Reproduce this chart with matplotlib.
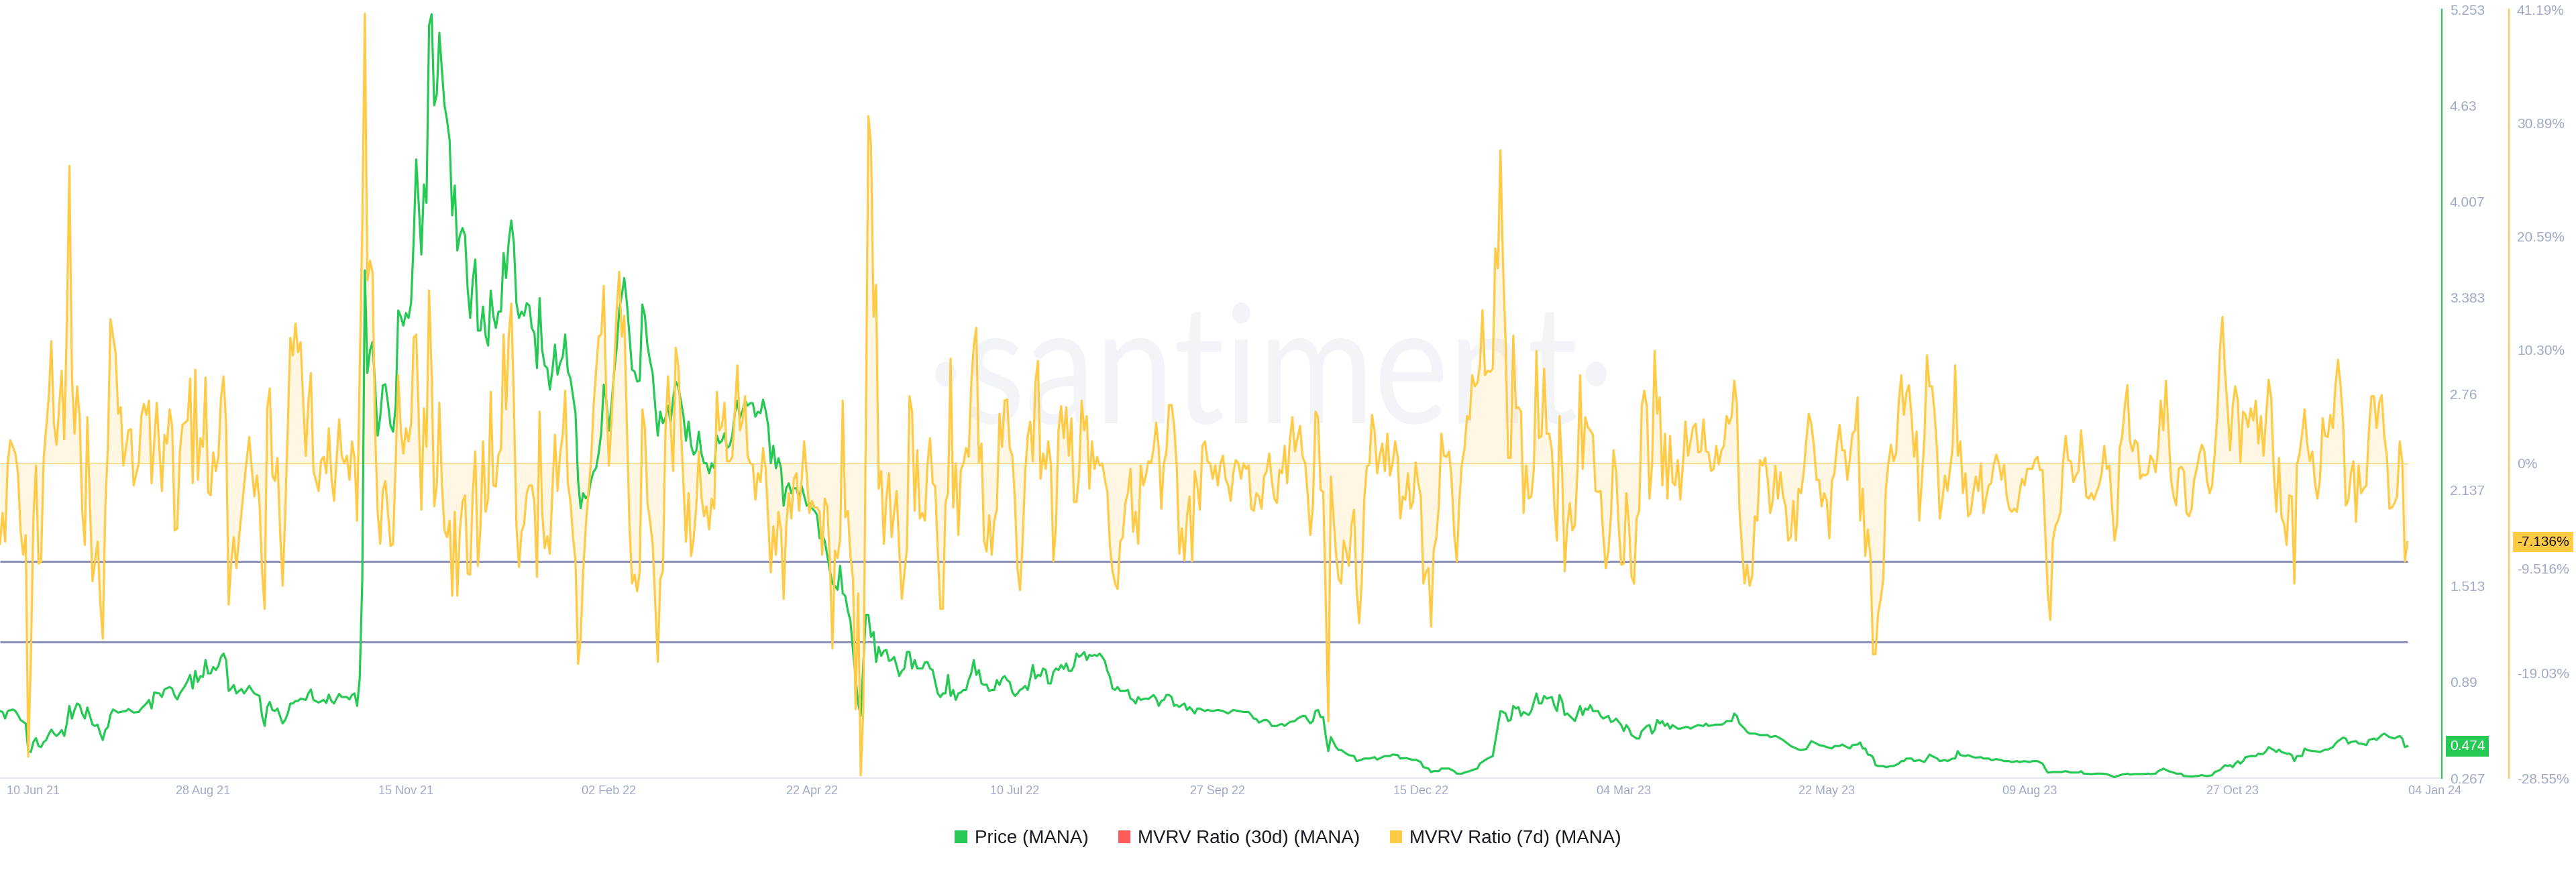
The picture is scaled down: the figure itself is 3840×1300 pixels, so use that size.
import datetime as dt
import numpy as np
import matplotlib
matplotlib.use("Agg")
import matplotlib.pyplot as plt
import matplotlib.dates as mdates
from matplotlib.patches import Patch, PathPatch
from matplotlib.textpath import TextPath
from matplotlib.font_manager import FontProperties
from matplotlib.transforms import Affine2D, blended_transform_factory, offset_copy

plt.rcParams['font.family'] = ['Liberation Sans', 'DejaVu Sans']

# ---------------- data (day = days after 10 Jun 2021) ----------------
START = dt.datetime(2021, 6, 10)

# MVRV ratio 7d (%) : 2021 part as (day, value) pairs
mvrv_points_2021 = [
    (0, -7.3), (1, -4.5), (2, -7.1), (3, 0.0), (4, 2.1), (6, 0.9), (7, -0.9), (8, -6.1), (9, -8.3), (10, -6.5),
    (11, -26.6), (12, -18.0), (13, -5.0), (14, -0.2), (15, -9.1), (16, -8.9), (17, 0.5), (19, 6.1), (20, 11.1),
    (21, 3.6), (22, 1.7), (24, 8.4), (25, 2.2), (26, 12.5), (27, 27.0), (28, 8.0), (29, 2.7), (30, 7.0), (31, 4.3),
    (32, -4.3), (33, -7.4), (34, 4.2), (35, -3.9), (36, -10.7), (38, -7.1), (39, -12.5), (40, -15.9), (41, -3.9),
    (42, 1.6), (43, 13.1), (45, 10.0), (46, 4.5), (47, 5.1), (48, -0.2), (50, 3.0), (51, 3.1), (52, -2.0), (54, 0.0),
    (55, 4.3), (56, 5.4), (57, 4.4), (58, 5.7), (59, -1.8), (61, 5.5), (63, -2.5), (64, 2.6), (65, 1.8), (66, 4.9),
    (67, 3.4), (68, -6.1), (69, -5.9), (70, 1.1), (71, 3.5), (73, 3.9), (74, 7.7), (75, -1.8), (76, 8.5), (77, -1.5),
    (78, 2.3), (79, 1.5), (80, 7.8), (81, -2.6), (82, -2.9), (83, 1.0), (84, -0.7), (85, 0.6), (86, 5.9), (87, 7.9),
    (88, 3.6), (89, -12.8), (90, -8.9), (91, -6.7), (92, -9.5), (93, -6.8), (95, -2.1), (96, 0.3), (97, 2.4),
    (98, -0.5), (99, -3.0), (100, -1.1), (101, -3.6), (102, -9.8), (103, -13.2), (104, 5.0), (105, 6.8), (106, -1.1),
    (107, -1.6), (108, 0.5), (109, -6.1), (110, -11.1), (111, -4.8), (112, 3.4), (113, 11.4), (114, 9.8), (115, 12.7),
    (116, 10.1), (117, 11.0), (118, 5.7), (119, 0.7), (120, 5.5), (121, 8.2), (122, -0.7), (124, -2.5), (125, 0.3),
    (126, 0.6), (127, -0.9), (128, 3.2), (129, -1.3), (130, -3.4), (132, 4.0), (133, 0.7), (134, 0.0), (135, 0.7),
    (136, -1.5), (137, 2.0), (138, 0.5), (139, -5.2), (140, 8.4), (141, 21.6), (142, 40.8), (143, 16.6), (144, 18.4),
    (145, 17.3), (146, 3.0), (147, -4.5), (148, -7.3), (149, -2.5), (150, -1.6), (152, -7.5), (153, -7.3), (154, 0.2),
    (155, 8.0), (156, 3.0), (157, 0.9), (158, 3.2),
]
# MVRV ratio 7d (%) : daily blocks, keyed by first day
mvrv_daily_from_159 = [
    2.0, 3.6, 11.4, 11.7, 3.9, -4.2, 5.0, 1.5, 15.7, 8.2, -3.9, -2.0, 5.5, -2.0, -6.1, -6.7, -5.2, -12.0, -4.4, -12.0,
    -6.1, -3.5, -2.9, -10.0, -10.1, -2.7, 1.1, -9.3, -6.0, 2.0, -4.4, -3.2, 6.5, -2.0, -2.1, 0.8, 1.3, 11.7, 4.9, 11.5,
    14.5, 5.7, -5.7, -9.4, -6.2, -5.5, -2.7, -2.0, -2.0, -3.6, -10.3, 4.7, -4.4, -7.7, -6.6, -8.2, -2.5, 2.6, -2.5, 0.9,
    2.6, 6.6, -1.8, -3.4, -6.6, -8.9, -18.2, -15.9, -9.8, -5.7, -2.7, 0.0, 5.2, 8.4, 11.5, 11.7, 16.1, 5.7, -0.2, 3.9,
    8.4, 13.9, 17.4, 11.5, 13.4, 3.4, -5.7, -10.9, -10.1, -11.6, -9.8, 4.9, 3.2, -3.6, -5.2, -7.3, -12.5, -18.0, -10.5,
    -9.8, 3.0, 7.9, 3.6, -0.7, 10.5, 8.9, 3.4, -1.8, -7.1, -2.7, -8.4, -6.8, -3.9, 1.1, -3.0, -4.8, -3.9, -6.0, -3.2,
    -4.1, 6.5, 3.0, 3.4, 5.5, 0.2, 0.2, 0.6, 4.8, 8.9, 3.0, 3.9, 6.1, 0.7, 0.0, -0.1, -3.3, -0.9, -1.7, 1.4, -0.5,
    -5.2, -9.9, -5.7, -8.3, -4.4, -6.1, -12.3, -5.8, -2.7, -5.0, -1.4, -0.9, -4.3, -1.6, 2.0, -1.1, -4.5,
]
mvrv_daily_from_316 = [
    -3.4, -4.0, -4.0, -4.4, -8.3, -3.2, -3.9, -8.9, -16.8, -7.9, -8.6, -6.8, 5.7, -4.9, -4.3, -8.4, -10.5, -22.3,
    -11.8, -28.3, -22.5, 3.4, 31.5, 28.9, 13.3, 16.2, -2.3, -0.7, -7.3, -3.2, -0.9, -6.7, -4.5, -2.5, -8.0, -12.3,
    -10.0, -7.7, 6.1, 4.7, -4.3, 1.2, -5.0, -4.5, -5.2, 0.0, 2.3, -1.8, -2.1, -8.0, -13.2, -13.2, -3.6, -2.7, 9.5,
    -4.0, 0.0, -6.5, -0.6, 0.0, 1.4, 0.6, 7.1, 10.7, 12.3, 0.1, 1.8, -7.0, -8.0, -4.7, -8.3, -5.2, -4.2, 4.5, 1.5,
    5.7, 5.8, 1.4, 0.7, -3.2, -9.5, -11.5, -7.3, -0.9, 2.5, 3.8, 0.2, 7.4, 9.3, -1.4, 0.9, -0.5, 2.0, 0.0, -8.9,
    -5.7, 3.0, 5.2, 2.3, 5.1, 0.7, 4.1, -3.5, -3.5, -1.0, 5.7, 3.0, 4.3, -2.3, 2.0, -0.5, 0.6, -0.2, 0.0, -1.4,
    -2.6, -7.5, -9.8, -10.9, -11.4, -7.1, -6.7, -3.6, -2.7, -0.5, -6.2, -4.4, -7.3, -0.2, -2.0, -1.1, 0.2, 0.0,
    1.4, 3.7, 1.4, -4.1, 0.0, 1.1, 5.3, 5.3, 3.4, -0.2, -8.2, -5.9, -8.8, -4.8, -3.0, -8.9, -0.7, -2.0, -4.2, 1.6,
    2.0, 0.2,
]
mvrv_daily_from_471 = [
    0.0, -1.4, -0.2, -2.0, 0.0, 0.7, -1.4, -2.0, -3.4, -0.9, 0.3, 0.0, -1.4, 0.0, -0.5, -0.2, -4.1, -4.3, -2.7, -3.0,
    -4.1, -1.2, -0.7, 0.9, -1.6, -3.2, -3.6, -0.6, -0.9, 1.6, -1.8, 2.0, 4.2, 1.1, 2.3, 3.4, 0.6, 0.0, -3.0, -6.5,
    -3.9, 4.7, 4.2, -2.4, -2.6, -12.5, -23.4, -1.2, -4.8, -8.2, -10.5, -10.9, -7.0, -8.0, -9.3, -5.6, -4.2, -11.4,
    -14.5, -10.9, -3.2, -0.3, -0.1, 4.4, 2.9, -0.9, 0.7, 1.8, -0.7, 2.7, -1.1, 0.0, 2.0, 0.6, -5.0, -3.0, -3.3, -0.9,
    -4.1, -3.5, 0.1, -1.8, -3.0, -10.9, -9.9, -9.5, -14.8, -7.9, -6.8, -3.9, 2.7, 0.7, 0.6, 1.1, -1.6, -6.4, -8.9,
    -3.4, 0.0, 1.4, 4.3, 4.0, 8.0, 7.0, 7.3, 8.9, 13.9, 8.0, 8.4, 8.3, 8.6, 19.5, 17.7, 28.4, 18.0, 11.1, 0.5, 0.5,
    11.6, 5.0, 5.1, 4.7, -4.5, -0.2, -3.2, -3.0, -0.5, 10.2, 2.3, 2.5, 8.6, 2.7, 2.7, 1.2, -3.9, -7.0, 4.3, -0.7,
    -9.8, -5.7, -3.6, -6.1, -5.6, -0.5, 8.0, -0.5, 4.2, 3.3, 3.0, 2.6, -2.5, -2.6, -2.5, -6.6, -9.5, -8.0, -4.8,
]
mvrv_daily_from_628 = [
    1.2, -0.7, -5.7, -9.2, -9.1, -2.7, -5.5, -10.2, -10.9, -5.0, -4.3, 5.2, 6.6, 5.1, -3.2, -0.2, 10.2, 4.5, 6.0, -2.0,
    2.7, -3.2, 2.5, -1.7, -2.0, 0.3, -3.3, -0.2, 3.8, 0.7, 2.0, 3.3, 3.6, 1.0, 1.1, 4.0, 1.1, 1.0, -0.7, -0.5,
    1.6, -0.1, 1.2, 1.6, 4.3, 3.6, 4.3, 7.5, 5.5, -4.1, -7.7, -10.9, -9.2, -11.1, -10.2, -4.8, -5.2, 0.3, -0.2, 0.5,
    -1.4, -4.5, -3.4, -0.2, -3.2, -0.8, -3.0, -3.9, -7.0, -6.7, -3.4, -7.0, -2.3, -2.7, -0.9, 2.0, 4.5, 3.6, 1.6, -1.5,
    -1.5, -3.9, -2.7, -3.4, -6.8, -1.6, -0.9, 1.8, 3.5, 1.2, 1.2, -1.5, 0.5, 2.7, 3.0, 6.0, -5.2, -2.3, -8.4, -6.0,
    -8.4, -17.3, -17.3, -13.6, -12.3, -10.5, -2.3, 0.0, 1.7, 0.2, 0.9, 5.5, 8.0, 4.4, 6.4, 7.1, 4.3, 0.6, 2.9, -5.2,
    -1.6, 2.3, 9.8, 7.0, 7.0, 4.5, 0.9, -5.0, -3.4, -1.1, -2.5, -0.5, 1.6, 8.9, 0.7, 2.0, -2.7, -0.9, -4.8, -4.5,
    -2.7, -1.2, -2.5, 0.0, -4.5, -3.2, -2.0, -1.8, -0.1, 0.8, 0.0, -1.5, -0.1, -2.9, -4.1, -4.4,
]
mvrv_daily_from_784 = [
    -4.1, -4.4, -2.7, -1.4, -2.0, -0.5, -0.5, -0.5, 0.3, 0.6, -0.6, -0.6, -6.1, -11.6, -14.2, -7.0, -5.7, -5.2, -4.4,
    0.2, 2.5, 0.3, 0.2, -1.7, -1.1, -0.7, 3.0, 0.2, -3.0, -3.2, -2.7, -3.3, -2.6, -2.0, -0.9, 1.6, -0.5, -0.2, -3.9,
    -7.0, -5.5, 1.4, 2.5, 5.2, 7.1, 2.0, 1.1, 2.1, 1.8, -1.4, -1.0, -1.1, -0.9, 0.7, 0.3, -0.8, 1.4, 5.7, 3.0, 7.5,
    3.0, -1.5, -3.0, -3.8, -0.5, -0.3, -0.7, -4.5, -4.8, -4.1, -1.5, -0.5, 0.8, 1.7, 1.1, -1.6, -2.7, -2.0, 1.0, 4.3,
    10.2, 13.3, 8.4, 5.0, 1.2, 5.2, 7.0, 5.7, 0.1, 4.7, 4.4, 3.3, 5.0, 3.9, 5.7, 1.8, 4.3, 0.7, 4.3, 7.6, 5.9, -0.9,
    -4.4, 0.5, -4.9, -5.5, -7.4, -2.9, -3.0, -10.9, -0.1, 0.9, 2.7, 4.9, 1.8, 0.2, 1.1, -1.8, -3.2, -1.4, 4.1, 2.5,
    2.4, 4.4, 3.2, 7.1, 9.4, 7.0, 3.6, -3.8, -3.4, -0.9, 0.2, -5.3, -0.2, -2.7, -2.3, -2.0, 2.9, 6.1, 6.1, 3.2, 5.5,
    6.2, 2.5, 0.7, -4.1, -4.0, -3.6, -3.0, 2.0, 0.2, -8.9, -7.136,
]

# Price (USD)
price_points_2021 = [
    (0, 0.702), (1, 0.696), (2, 0.653), (3, 0.702), (5, 0.712), (6, 0.702), (7, 0.676), (8, 0.644), (10, 0.621),
    (11, 0.442), (12, 0.436), (13, 0.501), (14, 0.527), (15, 0.475), (16, 0.468), (17, 0.501), (18, 0.514),
    (19, 0.553), (20, 0.582), (21, 0.556), (22, 0.540), (23, 0.556), (24, 0.579), (25, 0.540), (26, 0.621),
    (27, 0.735), (28, 0.653), (29, 0.709), (30, 0.751), (31, 0.741), (32, 0.686), (33, 0.653), (34, 0.725),
    (35, 0.670), (36, 0.614), (37, 0.605), (38, 0.614), (39, 0.556), (40, 0.514), (41, 0.579), (42, 0.598),
    (43, 0.679), (44, 0.712), (46, 0.692), (47, 0.696), (49, 0.702), (50, 0.715), (52, 0.692), (54, 0.696),
    (55, 0.718), (57, 0.751), (58, 0.774), (59, 0.718), (60, 0.822), (62, 0.816), (63, 0.793), (64, 0.842),
    (66, 0.858), (67, 0.848), (68, 0.800), (69, 0.777), (70, 0.816), (72, 0.865), (73, 0.897), (74, 0.936),
    (75, 0.848), (76, 0.962), (77, 0.891), (78, 0.929), (79, 0.923), (80, 1.033), (81, 0.946), (82, 0.946),
    (83, 0.988), (84, 0.968), (85, 0.994), (86, 1.053), (87, 1.075), (88, 1.033), (89, 0.832), (90, 0.848),
    (91, 0.871), (92, 0.816), (93, 0.832), (94, 0.845), (95, 0.816), (96, 0.839), (97, 0.865), (98, 0.839),
    (99, 0.816), (101, 0.800), (102, 0.670), (103, 0.605), (104, 0.728), (105, 0.761), (106, 0.709), (107, 0.702),
    (108, 0.718), (109, 0.670), (110, 0.621), (111, 0.644), (112, 0.686), (113, 0.751), (114, 0.751), (115, 0.767),
    (116, 0.767), (117, 0.783), (119, 0.774), (120, 0.816), (121, 0.842), (122, 0.774), (124, 0.757), (126, 0.774),
    (127, 0.754), (128, 0.809), (129, 0.767), (130, 0.751), (131, 0.783), (132, 0.813), (133, 0.793), (135, 0.793),
    (136, 0.777), (137, 0.806), (138, 0.816), (139, 0.735), (140, 0.913), (141, 1.550), (142, 3.560), (143, 2.894),
    (144, 3.040), (145, 3.095), (146, 2.813), (147, 2.488), (148, 2.611), (149, 2.813), (150, 2.822), (151, 2.699),
    (152, 2.553), (153, 2.514), (154, 2.676), (155, 3.300), (156, 3.261),
]
price_daily_from_157 = [
    3.202, 3.283, 3.251, 3.348, 3.754, 4.280, 3.981, 3.663, 4.118, 3.998, 5.150, 5.222, 4.631, 4.702, 5.101, 4.858,
    4.631, 4.534, 4.404, 3.917, 4.111, 3.689, 3.787, 3.835, 3.787, 3.446, 3.251, 3.495, 3.631, 3.170, 3.170, 3.326,
    3.137, 3.072, 3.430, 3.267, 3.186, 3.293, 3.293, 3.673, 3.511, 3.748, 3.884, 3.738, 3.348, 3.251, 3.293, 3.267,
    3.348, 3.332, 3.186, 3.153, 2.926, 3.381, 3.046, 2.943, 2.926, 2.787, 2.910, 3.079, 2.884, 2.959, 2.998, 3.144,
    2.904, 2.861, 2.748, 2.634, 2.196, 2.017, 2.115, 2.082, 2.098, 2.196, 2.254, 2.277, 2.374, 2.504, 2.819, 2.715,
    2.520, 2.689, 2.894, 3.056, 3.300, 3.397, 3.511, 3.348, 3.137, 2.916, 2.904, 2.839, 2.845, 3.339, 3.267, 3.072,
    2.975, 2.894, 2.683, 2.488, 2.644, 2.569, 2.602, 2.683, 2.569, 2.731, 2.839, 2.806, 2.715, 2.618, 2.455, 2.579,
    2.423, 2.365, 2.391, 2.514, 2.374, 2.309, 2.309, 2.244, 2.309, 2.277, 2.488, 2.439, 2.455, 2.504, 2.407, 2.423,
    2.488, 2.634, 2.715, 2.602, 2.650, 2.715, 2.683, 2.699, 2.699, 2.611, 2.644, 2.634, 2.722, 2.650, 2.553, 2.309,
    2.423, 2.277, 2.342, 2.277, 2.033, 2.147, 2.179, 2.115, 2.147, 2.147, 2.082, 2.163, 2.098, 2.033, 2.050,
]
price_daily_from_316 = [
    2.017, 2.001, 1.975, 1.822, 1.845, 1.806, 1.709, 1.611, 1.530, 1.514, 1.488, 1.644, 1.465, 1.449, 1.351, 1.287,
    1.092, 0.929, 0.751, 0.670, 0.994, 1.326, 1.326, 1.183, 1.215, 1.020, 1.118, 1.059, 1.092, 1.098, 1.027, 1.033,
    1.053, 0.994, 0.929, 0.962, 0.978, 1.085, 1.085, 0.978, 1.033, 0.978, 0.978, 0.978, 1.017, 1.020, 0.978, 0.968,
    0.890, 0.816, 0.793, 0.816, 0.816, 0.936, 0.800, 0.839, 0.774, 0.816, 0.822, 0.839, 0.839, 0.903, 0.946, 1.033,
    0.936, 0.968, 0.881, 0.871, 0.874, 0.832, 0.839, 0.839, 0.903, 0.871, 0.913, 0.929, 0.903, 0.890, 0.825, 0.800,
    0.816, 0.839, 0.848, 0.865, 0.839, 0.913, 1.001, 0.913, 0.936, 0.929, 0.978, 0.968, 0.881, 0.881, 0.955, 0.978,
    0.968, 1.001, 0.975, 1.011, 0.962, 0.962, 0.994, 1.075, 1.053, 1.066, 1.085, 1.033, 1.066, 1.059, 1.066, 1.059,
    1.075, 1.053, 1.027, 0.962, 0.923, 0.848, 0.839, 0.858, 0.832, 0.832, 0.832, 0.839, 0.783, 0.774, 0.751, 0.793,
    0.774, 0.780, 0.783, 0.780, 0.793, 0.806, 0.783, 0.735, 0.767, 0.774, 0.806, 0.806, 0.793, 0.735, 0.741, 0.728,
    0.741, 0.751, 0.709, 0.728, 0.709, 0.686, 0.718, 0.718, 0.709, 0.702, 0.709,
]
price_points_late = [
    (472, 0.702), (474, 0.709), (476, 0.702), (478, 0.686), (480, 0.709), (482, 0.702), (484, 0.696), (486, 0.696),
    (487, 0.676), (488, 0.653), (489, 0.650), (490, 0.627), (492, 0.644), (493, 0.644), (494, 0.631), (495, 0.605),
    (497, 0.605), (498, 0.614), (499, 0.618), (500, 0.605), (502, 0.631), (504, 0.637), (505, 0.653), (507, 0.670),
    (508, 0.670), (509, 0.644), (510, 0.621), (511, 0.637), (512, 0.702), (513, 0.709), (514, 0.663), (515, 0.663),
    (516, 0.540), (517, 0.442), (518, 0.533), (519, 0.501), (520, 0.468), (521, 0.449), (522, 0.449), (524, 0.426),
    (525, 0.416), (527, 0.410), (528, 0.377), (530, 0.387), (531, 0.394), (533, 0.394), (535, 0.403), (536, 0.387),
    (538, 0.403), (539, 0.410), (541, 0.410), (542, 0.420), (544, 0.416), (545, 0.394), (547, 0.397), (548, 0.394),
    (550, 0.384), (551, 0.387), (553, 0.371), (554, 0.338), (556, 0.329), (557, 0.306), (558, 0.312), (560, 0.312),
    (561, 0.329), (562, 0.329), (564, 0.329), (566, 0.312), (567, 0.296), (569, 0.296), (570, 0.303), (572, 0.312),
    (573, 0.319), (575, 0.329), (576, 0.361), (578, 0.384), (579, 0.394), (581, 0.410), (582, 0.507), (583, 0.605),
    (584, 0.702), (585, 0.696), (586, 0.686), (587, 0.637), (588, 0.644), (589, 0.735), (590, 0.718), (591, 0.728),
    (592, 0.670), (593, 0.696), (595, 0.676), (596, 0.702), (598, 0.816), (599, 0.751), (600, 0.751), (601, 0.800),
    (602, 0.783), (604, 0.793), (605, 0.735), (606, 0.702), (607, 0.806), (608, 0.767), (609, 0.676), (610, 0.686),
    (612, 0.653), (613, 0.637), (614, 0.686), (615, 0.735), (616, 0.676), (617, 0.718), (618, 0.709), (619, 0.741),
    (620, 0.702), (622, 0.702), (623, 0.670), (624, 0.653), (626, 0.670), (627, 0.631), (628, 0.637), (629, 0.653),
    (631, 0.611), (632, 0.572), (633, 0.611), (634, 0.588), (635, 0.546), (637, 0.524), (638, 0.524), (639, 0.572),
    (641, 0.605), (642, 0.611), (643, 0.556), (644, 0.579), (645, 0.644), (646, 0.621), (647, 0.637), (648, 0.605),
    (649, 0.621), (650, 0.588), (651, 0.611), (653, 0.588), (654, 0.588), (656, 0.598), (657, 0.598), (658, 0.588),
    (660, 0.605), (661, 0.611), (663, 0.605), (664, 0.621), (665, 0.605), (667, 0.611), (668, 0.614), (670, 0.614),
    (671, 0.621), (672, 0.637), (674, 0.637), (675, 0.686), (676, 0.670), (677, 0.621), (679, 0.588), (680, 0.566),
    (681, 0.556), (683, 0.556), (685, 0.546), (686, 0.546), (688, 0.546), (689, 0.533), (691, 0.540), (692, 0.533),
    (694, 0.514), (695, 0.501), (697, 0.475), (698, 0.468), (700, 0.452), (701, 0.449), (703, 0.455), (704, 0.481),
    (705, 0.507), (707, 0.491), (708, 0.481), (710, 0.475), (711, 0.468), (713, 0.459), (714, 0.475), (716, 0.475),
    (717, 0.485), (718, 0.475), (720, 0.459), (721, 0.481), (723, 0.485), (724, 0.498), (725, 0.459), (726, 0.459),
    (727, 0.420), (728, 0.416), (729, 0.403), (730, 0.351), (731, 0.345), (733, 0.345), (734, 0.338), (736, 0.345),
    (737, 0.345), (739, 0.361), (740, 0.377), (741, 0.377), (742, 0.394), (744, 0.394), (745, 0.377), (747, 0.384),
    (749, 0.371), (750, 0.394), (751, 0.420), (752, 0.410), (754, 0.394), (755, 0.377), (757, 0.384), (758, 0.377),
    (760, 0.394), (761, 0.394), (762, 0.442), (763, 0.416), (765, 0.410), (766, 0.416), (768, 0.403), (769, 0.400),
    (771, 0.403), (772, 0.394), (774, 0.394), (775, 0.384), (777, 0.390), (779, 0.384), (780, 0.377), (782, 0.377),
    (783, 0.371), (785, 0.377), (786, 0.371), (788, 0.377), (790, 0.371), (791, 0.377), (793, 0.377), (795, 0.361),
    (796, 0.329), (797, 0.303), (799, 0.306), (801, 0.306), (802, 0.306), (804, 0.312), (806, 0.303), (807, 0.303),
    (809, 0.303), (810, 0.312), (811, 0.296), (814, 0.293), (816, 0.296), (818, 0.296), (820, 0.293), (822, 0.280),
    (823, 0.273), (824, 0.280), (826, 0.290), (828, 0.296), (829, 0.290), (831, 0.293), (833, 0.293), (834, 0.293),
    (836, 0.296), (837, 0.293), (839, 0.296), (840, 0.312), (841, 0.319), (842, 0.329), (844, 0.312), (846, 0.303),
    (847, 0.296), (849, 0.296), (850, 0.280), (853, 0.277), (855, 0.280), (857, 0.286), (859, 0.280), (861, 0.286),
    (862, 0.306), (864, 0.319), (866, 0.351), (867, 0.345), (868, 0.351), (869, 0.338), (870, 0.361), (871, 0.377),
    (872, 0.361), (873, 0.377), (874, 0.403), (876, 0.410), (878, 0.410), (879, 0.426), (880, 0.420), (881, 0.426),
    (882, 0.442), (883, 0.468), (885, 0.449), (886, 0.436), (887, 0.452), (888, 0.436), (890, 0.426), (891, 0.426),
    (892, 0.416), (893, 0.377), (894, 0.410), (896, 0.410), (897, 0.459), (898, 0.449), (900, 0.442), (901, 0.442),
    (903, 0.436), (905, 0.452), (906, 0.452), (908, 0.468), (909, 0.491), (910, 0.507), (912, 0.530), (913, 0.524),
    (914, 0.491), (915, 0.501), (917, 0.507), (918, 0.491), (919, 0.491), (921, 0.481), (922, 0.514), (924, 0.524),
    (925, 0.514), (927, 0.546), (928, 0.556), (930, 0.533), (932, 0.524), (933, 0.533), (934, 0.540), (935, 0.524),
    (936, 0.468), (937, 0.474),
]

price_ticks = [0.267, 0.89, 1.513, 2.137, 2.76, 3.383, 4.007, 4.63, 5.253]
price_tick_labels = ['0.267', '0.89', '1.513', '2.137', '2.76', '3.383', '4.007', '4.63', '5.253']
mvrv_ticks = [-28.55, -19.03, -9.516, 0.0, 10.30, 20.59, 30.89, 41.19]
mvrv_tick_labels = ['-28.55%', '-19.03%', '-9.516%', '0%', '10.30%', '20.59%', '30.89%', '41.19%']
x_tick_dates = ['2021-06-10', '2021-08-28', '2021-11-15', '2022-02-02', '2022-04-22', '2022-07-10',
                '2022-09-27', '2022-12-15', '2023-03-04', '2023-05-22', '2023-08-09', '2023-10-27', '2024-01-04']
x_tick_labels = ['10 Jun 21', '28 Aug 21', '15 Nov 21', '02 Feb 22', '22 Apr 22', '10 Jul 22', '27 Sep 22',
                 '15 Dec 22', '04 Mar 23', '22 May 23', '09 Aug 23', '27 Oct 23', '04 Jan 24']
guide_levels = [-8.9, -16.2]
legend_labels = ['Price (MANA)', 'MVRV Ratio (30d) (MANA)', 'MVRV Ratio (7d) (MANA)']
last_price_label = '0.474'
last_mvrv_label = '-7.136%'

# ---------------- assemble series ----------------
def blocks(pairs, daily_blocks):
    d = [p[0] for p in pairs]
    v = [p[1] for p in pairs]
    for start, vals in daily_blocks:
        d += list(range(start, start + len(vals)))
        v += list(vals)
    order = np.argsort(d, kind='stable')
    return np.asarray(d, float)[order], np.asarray(v, float)[order]

mvrv_d, mvrv_v = blocks(mvrv_points_2021, [(159, mvrv_daily_from_159), (316, mvrv_daily_from_316),
                                           (471, mvrv_daily_from_471), (628, mvrv_daily_from_628),
                                           (784, mvrv_daily_from_784)])
price_d, price_v = blocks(price_points_2021 + price_points_late,
                          [(157, price_daily_from_157), (316, price_daily_from_316)])

D0 = mdates.date2num(START)
mvrv_x = D0 + mvrv_d
price_x = D0 + price_d
x_end = max(mvrv_x.max(), price_x.max())

# ---------------- style ----------------
GREEN = '#26C953'
YELLOW = '#FFCB47'
RED = '#FF5B5B'
GUIDE = '#8D92B8'
TICK = '#A0A9C6'
AXLINE = '#E3E6EF'
TEXT = '#181A22'

W, H = 3840, 1300
fig = plt.figure(figsize=(W / 100, H / 100), dpi=100, facecolor='white')
LEFT, RIGHT, TOP, BOTTOM = 0, 3640, 14, 1160
rect = [LEFT / W, 1 - BOTTOM / H, (RIGHT - LEFT) / W, (BOTTOM - TOP) / H]

ax = fig.add_axes(rect)
ax.patch.set_visible(False)
axp = ax.twinx()
axm = ax.twinx()

mv_lim = (-28.55, 41.19)
pr_lim = (0.267, 5.253)
xlim = (D0, D0 + 950.4)
for a in (ax, axp, axm):
    a.set_xlim(*xlim)
    for s in a.spines.values():
        s.set_visible(False)
    a.tick_params(axis='x', bottom=False, labelbottom=False)
ax.set_ylim(*mv_lim)
axm.set_ylim(*mv_lim)
axp.set_ylim(*pr_lim)
ax.set_yticks([])

# watermark
fp = FontProperties(family=['Lato', 'DejaVu Sans'], weight='normal')
tp = TextPath((0, 0), '\u00b7santiment\u00b7', size=100, prop=fp)
bb = tp.get_extents()
wx0, wx1, wtop, wbot = 1394, 2395, 451, 633
tr = Affine2D().translate(-bb.x0, -bb.y0).scale((wx1 - wx0) / bb.width, (wbot - wtop) / bb.height) \
    .translate(wx0, H - wbot)
fig.add_artist(PathPatch(tp, transform=tr, facecolor='#F3F4F8', edgecolor='none', zorder=-5))

# base layer: fill, zero line, guides, axis line
ax.fill_between(mvrv_x, mvrv_v, 0, color=YELLOW, alpha=0.15, linewidth=0, zorder=1)
ax.hlines(0, mvrv_x.min(), mvrv_x.max(), color=YELLOW, lw=0.8, zorder=2)
ax.hlines(guide_levels, D0, x_end, color=GUIDE, lw=2.3, zorder=3)
ax.spines['bottom'].set_visible(True)
ax.spines['bottom'].set_color(AXLINE)
ax.spines['bottom'].set_linewidth(1.6)

# price line
axp.plot(price_x, price_v, color=GREEN, lw=2.3, solid_joinstyle='round', zorder=3)
axp.spines['right'].set_visible(True)
axp.spines['right'].set_color(GREEN)
axp.spines['right'].set_linewidth(1.5)
axp.set_yticks(price_ticks, price_tick_labels)
axp.tick_params(axis='y', length=0, pad=8.6, labelsize=15, labelcolor=TICK)

# mvrv line
axm.plot(mvrv_x, mvrv_v, color=YELLOW, lw=2.3, solid_joinstyle='round', zorder=3)
axm.spines['right'].set_visible(True)
axm.spines['right'].set_position(('outward', 72))
axm.spines['right'].set_color(YELLOW)
axm.spines['right'].set_linewidth(1.5)
axm.set_yticks(mvrv_ticks, mvrv_tick_labels)
axm.tick_params(axis='y', length=0, pad=8.6, labelsize=15, labelcolor=TICK)

# x labels
xt = blended_transform_factory(ax.transData, ax.transAxes)
n = len(x_tick_dates)
for i, (ds, lab) in enumerate(zip(x_tick_dates, x_tick_labels)):
    xv = mdates.date2num(dt.datetime.strptime(ds, '%Y-%m-%d'))
    if i == 0:
        trans, ha = offset_copy(xt, fig=fig, x=10, y=0, units='dots'), 'left'
    elif i == n - 1:
        trans, ha = offset_copy(xt, fig=fig, x=37, y=0, units='dots'), 'center'
    else:
        trans, ha = xt, 'center'
    ax.text(xv, -20 / (BOTTOM - TOP), lab, transform=trans, ha=ha, va='center',
            fontsize=13, color=TICK, clip_on=False)

# last-value badges
axm.annotate(last_mvrv_label, xy=(1, mvrv_v[-1]), xycoords=('axes fraction', 'data'),
             xytext=(112, 0), textcoords='offset pixels', ha='left', va='center', fontsize=15,
             color='#111111', annotation_clip=False,
             bbox=dict(boxstyle='square,pad=0.28', facecolor=YELLOW, edgecolor='none'))
axp.annotate(last_price_label, xy=(1, price_v[-1]), xycoords=('axes fraction', 'data'),
             xytext=(12, 0), textcoords='offset pixels', ha='left', va='center', fontsize=15,
             color='white', annotation_clip=False,
             bbox=dict(boxstyle='square,pad=0.28', facecolor=GREEN, edgecolor='none'))

# legend
handles = [Patch(facecolor=c, edgecolor='none') for c in (GREEN, RED, YELLOW)]
fig.legend(handles, legend_labels, loc='center', bbox_to_anchor=(0.5, 1 - 1250 / H), ncol=3,
           frameon=False, fontsize=20, handlelength=0.65, handleheight=0.65, handletextpad=0.4,
           columnspacing=1.6, labelcolor=TEXT)

fig.savefig('out.png', dpi=100, facecolor='white')
